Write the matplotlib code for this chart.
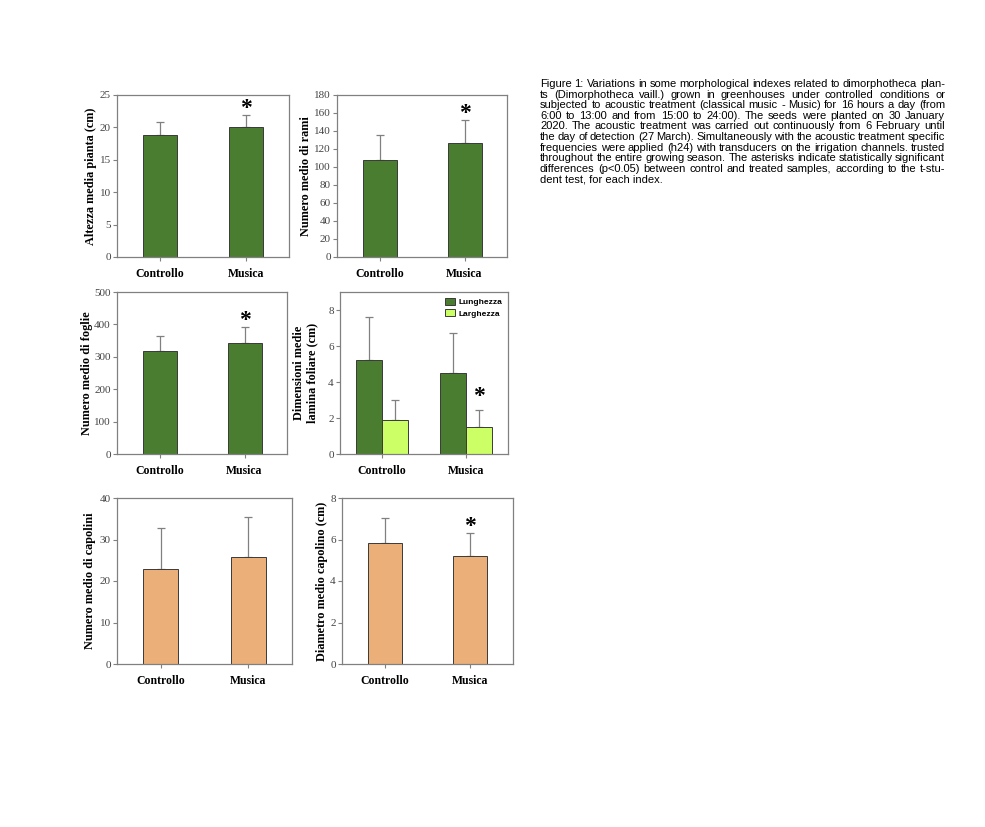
import numpy as np
import matplotlib
matplotlib.use("Agg")
import matplotlib.pyplot as plt

groups = ["Controllo", "Musica"]

altezza = [18.8, 20.1]
altezza_err = [2.0, 1.8]
rami = [108, 127]
rami_err = [28, 25]
foglie = [318, 344]
foglie_err = [46, 49]
lunghezza = [5.2, 4.5]
lunghezza_err = [2.4, 2.2]
larghezza = [1.9, 1.5]
larghezza_err = [1.1, 0.95]
capolini = [23.0, 25.8]
capolini_err = [9.7, 9.6]
diametro = [5.85, 5.2]
diametro_err = [1.2, 1.1]

caption = [
    "Figure 1: Variations in some morphological indexes related to dimorphotheca plan-",
    "ts (Dimorphotheca vaill.) grown in greenhouses under controlled conditions or",
    "subjected to acoustic treatment (classical music - Music) for 16 hours a day (from",
    "6:00 to 13:00 and from 15:00 to 24:00). The seeds were planted on 30 January",
    "2020. The acoustic treatment was carried out continuously from 6 February until",
    "the day of detection (27 March). Simultaneously with the acoustic treatment specific",
    "frequencies were applied (h24) with transducers on the irrigation channels. trusted",
    "throughout the entire growing season. The asterisks indicate statistically significant",
    "differences (p<0.05) between control and treated samples, according to the t-stu-",
    "dent test, for each index.",
]

GREEN = "#4a7d2f"
LIGHT = "#ccff66"
ORANGE = "#ebb07a"
GRAY = "#808080"
W, H = 985, 827

fig = plt.figure(figsize=(9.85, 8.27), dpi=100)
fig.patch.set_facecolor("white")


def make_ax(x0, y0, x1, y1, label_x):
    ax = fig.add_axes([x0 / W, 1 - y1 / H, (x1 - x0) / W, (y1 - y0) / H])
    ax.yaxis.set_label_coords((label_x - x0) / (x1 - x0), 0.5)
    return ax


def star(ax, x, y, dy=-4):
    ax.annotate("*", (x, y), xytext=(0, dy), textcoords="offset pixels",
                ha="center", va="bottom", fontsize=17, fontweight="bold",
                family="Liberation Serif")


def style(ax, ylim, yticks, ylabel):
    ax.set_xlim(0.5, 2.5)
    ax.set_ylim(*ylim)
    ax.set_yticks(yticks)
    ax.set_xticks([1, 2])
    ax.set_xticklabels(groups, family="Liberation Serif", fontweight="bold", fontsize=8.5)
    for s in ax.spines.values():
        s.set_color(GRAY)
        s.set_linewidth(0.9)
    ax.tick_params(axis="y", colors=GRAY, labelcolor="#444444", labelsize=8, length=3,
                   pad=1.5)
    ax.tick_params(axis="x", colors=GRAY, labelcolor="black", length=3, pad=5)
    for t in ax.get_yticklabels():
        t.set_family("Liberation Serif")
    ax.set_ylabel(ylabel, family="Liberation Serif", fontweight="bold", fontsize=8.8,
                  linespacing=1.1)


def single(ax, vals, errs, color, stars, ylim, yticks, ylabel):
    x = np.array([1, 2])
    ax.bar(x, vals, 0.4, color=color, edgecolor="#3a3a3a", linewidth=0.7, zorder=2)
    ax.errorbar(x, vals, yerr=[np.zeros(2), errs], fmt="none", ecolor=GRAY,
                elinewidth=0.9, capsize=3, capthick=0.9, zorder=1)
    for i, s in enumerate(stars):
        if s:
            star(ax, x[i], vals[i] + errs[i])
    style(ax, ylim, yticks, ylabel)


ax1 = make_ax(117, 95, 289, 257, 97)
single(ax1, altezza, altezza_err, GREEN, [False, True], (0, 25), range(0, 26, 5),
       "Altezza media pianta (cm)")

ax2 = make_ax(337, 95, 507, 257, 312)
single(ax2, rami, rami_err, GREEN, [False, True], (0, 180), range(0, 181, 20),
       "Numero medio di rami")

ax3 = make_ax(117, 292, 287, 454, 93)
single(ax3, foglie, foglie_err, GREEN, [False, True], (0, 500), range(0, 501, 100),
       "Numero medio di foglie")

# leaf dimensions, grouped bars
ax4 = make_ax(340, 292, 508, 454, 318)
x = np.array([1, 2])
bw = 0.31
ax4.bar(x - bw / 2, lunghezza, bw, color=GREEN, edgecolor="#3a3a3a", linewidth=0.7,
        label="Lunghezza", zorder=2)
ax4.bar(x + bw / 2, larghezza, bw, color=LIGHT, edgecolor="#3a3a3a", linewidth=0.7,
        label="Larghezza", zorder=2)
ax4.errorbar(x - bw / 2, lunghezza, yerr=[np.zeros(2), lunghezza_err], fmt="none",
             ecolor=GRAY, elinewidth=0.9, capsize=3, capthick=0.9, zorder=1)
ax4.errorbar(x + bw / 2, larghezza, yerr=[np.zeros(2), larghezza_err], fmt="none",
             ecolor=GRAY, elinewidth=0.9, capsize=3, capthick=0.9, zorder=1)
star(ax4, 2 + bw / 2, larghezza[1] + larghezza_err[1], dy=3)
style(ax4, (0, 9), range(0, 9, 2), "Dimensioni medie\nlamina foliare (cm)")
leg = ax4.legend(loc="upper right", frameon=False, handlelength=1.15, handleheight=0.95,
                 prop={"family": "Liberation Sans", "weight": "bold", "size": 6},
                 borderaxespad=0.3, labelspacing=0.35, handletextpad=0.4)

ax5 = make_ax(117, 498, 292, 664, 96)
single(ax5, capolini, capolini_err, ORANGE, [False, False], (0, 40), range(0, 41, 10),
       "Numero medio di capolini")

ax6 = make_ax(342, 498, 513, 664, 328)
single(ax6, diametro, diametro_err, ORANGE, [False, True], (0, 8), range(0, 9, 2),
       "Diametro medio capolino (cm)")

# justified caption
renderer = fig.canvas.get_renderer()
x_left, x_right = 540 / W, 945 / W
y_top = 79
line_h = 10.6
fs = 8.0
for i, line in enumerate(caption):
    y = 1 - (y_top + i * line_h) / H
    words = line.split(" ")
    if i == len(caption) - 1:
        fig.text(x_left, y, line, family="Liberation Sans", fontsize=fs, va="top")
        continue
    widths = []
    for w in words:
        t = fig.text(0, 0, w, family="Liberation Sans", fontsize=fs)
        widths.append(t.get_window_extent(renderer).width / W)
        t.remove()
    gap = (x_right - x_left - sum(widths)) / (len(words) - 1)
    gap = max(gap, 1.5 / W)
    xx = x_left
    for w, wd in zip(words, widths):
        fig.text(xx, y, w, family="Liberation Sans", fontsize=fs, va="top")
        xx += wd + gap

fig.savefig("out.png", dpi=100)
